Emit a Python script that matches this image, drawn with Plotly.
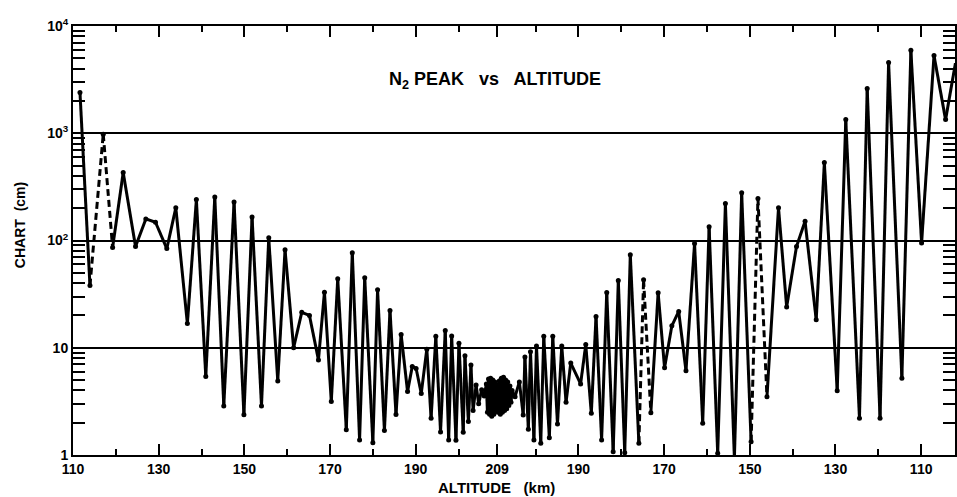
import plotly.graph_objects as go

# Distance along the trajectory (km): 0 = 110 km going up, 99 = apex (209 km), 198 = 110 km coming down
S_KM = [
    1.63, 3.96, 7.06, 9.25, 11.72, 14.6, 17.0, 19.26, 21.9, 24.0,
    26.7, 28.8, 31.0, 33.1, 35.2, 37.6, 39.9, 41.8, 44.0, 45.7,
    47.8, 49.5, 51.5, 53.4, 55.2, 57.3, 58.7, 60.3, 61.8, 63.8,
    65.2, 66.9, 68.1, 70.0, 71.1, 72.7, 74.0, 75.4, 76.6, 78.1,
    79.2, 80.1, 81.3, 82.6, 83.6, 84.7, 85.8, 86.9, 87.7, 88.4,
    89.4, 90.1, 91.1, 91.5, 92.3, 92.9, 93.4, 94.1, 94.7, 95.4,
    96.0,
    96.5, 96.75, 97.0, 97.25, 97.5, 97.75, 98.0, 98.25, 98.5, 98.75,
    99.0, 99.25, 99.5, 99.75, 100.0, 100.25, 100.5, 100.75, 101.0, 101.25,
    101.5, 101.75, 102.0, 102.25, 102.5,
    103.2, 104.2, 105.1, 105.5, 106.3, 106.8, 107.6, 108.2, 109.2, 109.9,
    111.2, 112.0, 113.1, 114.1, 115.1, 116.2, 118.5, 119.7, 121.0, 122.1,
    123.4, 124.6, 126.1, 127.3, 128.8, 130.1, 132.1, 133.2, 134.9, 136.6,
    138.1, 139.8, 141.4, 143.1, 145.1, 147.0, 148.5, 150.5, 152.3, 154.4,
    156.1, 158.3, 159.9, 162.0, 164.7, 166.6, 168.9, 170.9, 173.5, 175.4,
    178.4, 180.4, 183.6, 185.4, 188.4, 190.4, 193.5, 195.6, 198.1, 201.0,
    203.7, 206.0,
]

CHART_CM = [
    2400, 38, 980, 86, 430, 88, 159, 148, 84, 202,
    16.8, 241, 5.4, 255, 2.87, 228, 2.37, 166, 2.87, 106,
    4.9, 82, 10, 21.4, 20, 7.7, 33, 3.15, 44, 1.72,
    77, 1.38, 45, 1.3, 34.7, 1.69, 22.3, 2.38, 13.3, 3.9,
    6.7, 6.4, 3.75, 9.7, 2.2, 12.8, 1.64, 14.5, 1.38, 12.9,
    1.37, 11, 1.63, 8.4, 2.05, 6.9, 2.6, 4.5, 3.0, 4.05,
    3.55,
    4.6, 2.5, 5.1, 2.4, 5.2, 2.3, 5.0, 2.4, 4.8, 2.6,
    4.5, 2.5, 4.9, 2.4, 5.2, 2.5, 5.3, 2.6, 5.0, 2.7,
    4.8, 2.9, 4.4, 3.1, 4.0,
    3.5, 4.8, 2.36, 8.2, 1.74, 9.2, 1.38, 10.4, 1.29, 12.8,
    1.45, 12.8, 1.95, 10.4, 3.1, 7.2, 4.6, 10.7, 2.45, 19.6,
    1.38, 32.8, 1.07, 42.4, 1.05, 73.6, 1.29, 43, 2.48, 32.5,
    6.5, 16, 21.8, 6.1, 94, 1.98, 134, 1.04, 221, 0.93,
    279, 1.33, 247, 3.5, 202, 24, 88, 151, 18.2, 534,
    3.98, 1340, 2.2, 2610, 2.2, 4560, 5.2, 5930, 95, 5300,
    1340, 4500,
]

# stretches of the trajectory drawn with a dashed line (km along trajectory)
DASHED_RANGES_KM = [(3.96, 9.25), (132.1, 134.9), (158.3, 162.0)]

X_TICK_POS = [0, 20, 40, 60, 80, 99, 118, 138, 158, 178, 198]
X_TICK_TEXT = ["110", "130", "150", "170", "190", "209", "190", "170", "150", "130", "110"]
X_MINOR_POS = [10, 30, 50, 70, 90, 108, 128, 148, 168, 188]

Y_TICK_VALS = [1, 10, 100, 1000, 10000]
Y_TICK_TEXT = ["1", "10", "10<sup>2</sup>", "10<sup>3</sup>", "10<sup>4</sup>"]


def in_dashed(a, b):
    return any(lo - 1e-6 <= a and b <= hi + 1e-6 for lo, hi in DASHED_RANGES_KM)


solid_x, solid_y, dash_x, dash_y = [], [], [], []
for i in range(len(S_KM) - 1):
    a, b = S_KM[i], S_KM[i + 1]
    if in_dashed(a, b):
        dash_x += [a, b, None]
        dash_y += [CHART_CM[i], CHART_CM[i + 1], None]
    else:
        solid_x += [a, b, None]
        solid_y += [CHART_CM[i], CHART_CM[i + 1], None]

FONT = "Liberation Sans, Arial, sans-serif"

fig = go.Figure()
fig.add_trace(go.Scatter(x=solid_x, y=solid_y, mode="lines",
                         line=dict(color="black", width=3), hoverinfo="skip"))
fig.add_trace(go.Scatter(x=dash_x, y=dash_y, mode="lines",
                         line=dict(color="black", width=3, dash="7px,4px"), hoverinfo="skip"))
fig.add_trace(go.Scatter(x=S_KM, y=CHART_CM, mode="markers",
                         marker=dict(color="black", size=5), cliponaxis=False,
                         hoverinfo="skip"))

fig.update_layout(
    width=957, height=497,
    margin=dict(l=73, r=0, t=26, b=42),
    paper_bgcolor="white", plot_bgcolor="white",
    showlegend=False,
    font=dict(family=FONT, color="black"),
    xaxis=dict(
        range=[0, 205.9],
        tickmode="array", tickvals=X_TICK_POS, ticktext=X_TICK_TEXT,
        ticks="inside", ticklen=11, tickwidth=2, tickcolor="black",
        tickfont=dict(size=14, family=FONT, color="black", weight="bold"),
        showline=True, linewidth=2, linecolor="black", mirror="ticks",
        showgrid=False, zeroline=False,
        minor=dict(tickmode="array", tickvals=X_MINOR_POS, ticks="inside",
                   ticklen=6, tickwidth=2, tickcolor="black", showgrid=False),
    ),
    yaxis=dict(
        type="log", range=[0, 4],
        tickmode="array", tickvals=Y_TICK_VALS, ticktext=Y_TICK_TEXT,
        ticks="inside", ticklen=14, tickwidth=2, tickcolor="black",
        tickfont=dict(size=14, family=FONT, color="black", weight="bold"),
        showline=True, linewidth=2, linecolor="black", mirror="ticks",
        showgrid=True, gridcolor="black", gridwidth=1.6, zeroline=False,
        minor=dict(tickmode="array",
                   tickvals=[m * 10 ** k for k in range(4) for m in range(2, 10)],
                   ticks="inside", ticklen=12, tickwidth=1.6, tickcolor="black",
                   showgrid=False),
    ),
    annotations=[
        dict(text="N<sub>2</sub> PEAK   vs   ALTITUDE", xref="paper", yref="paper",
             x=0.478, y=0.874, xanchor="center", yanchor="middle", showarrow=False,
             font=dict(size=18, family=FONT, color="black", weight="bold")),
        dict(text="ALTITUDE   (km)", xref="paper", yref="paper",
             x=0.48, y=-0.075, xanchor="center", yanchor="middle", showarrow=False,
             font=dict(size=15, family=FONT, color="black", weight="bold")),
        dict(text="CHART  (cm)", xref="paper", yref="paper", textangle=-90,
             x=-0.06, y=0.536, xanchor="center", yanchor="middle", showarrow=False,
             font=dict(size=14, family=FONT, color="black", weight="bold")),
    ],
)

fig.write_html("out.html",
               config={"displayModeBar": False},
               post_script="document.body.style.margin='0';document.body.style.padding='0';")
